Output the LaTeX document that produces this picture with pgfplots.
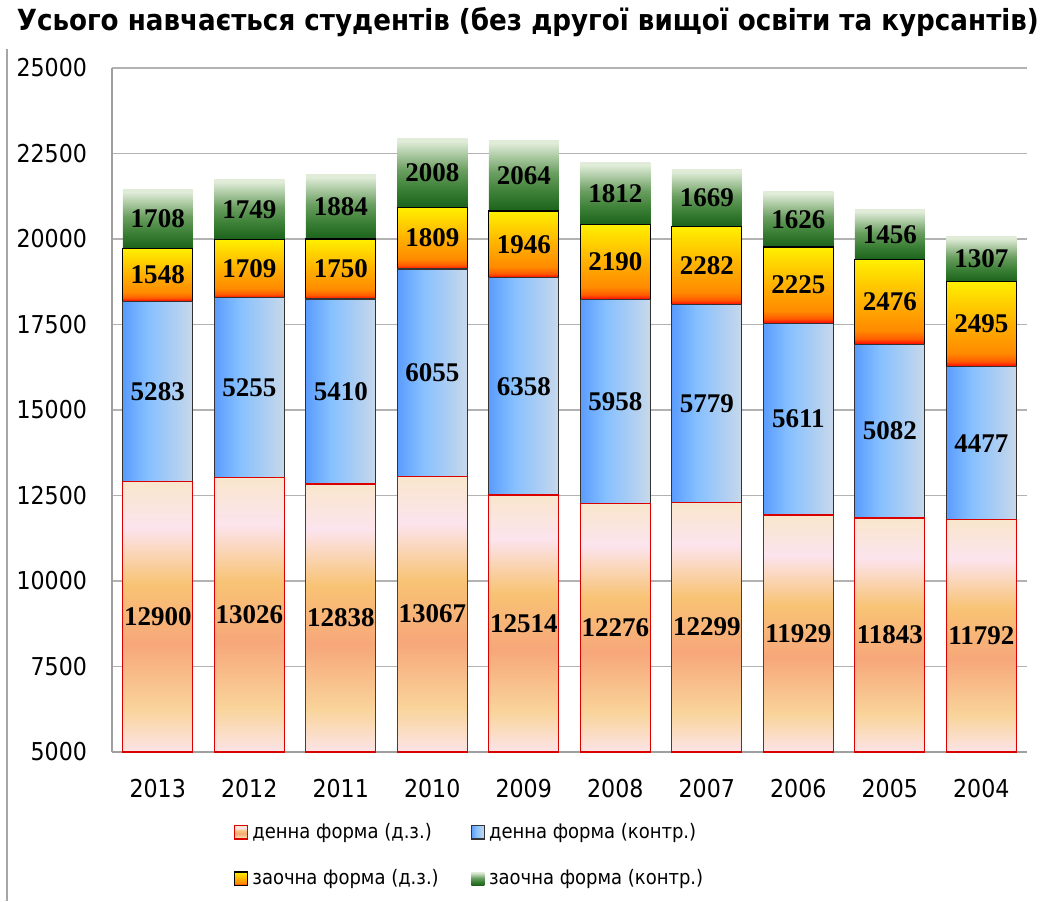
\documentclass[border=0pt]{standalone}
\usepackage{pgfplots}
\pgfplotsset{compat=1.18}
\usepackage{pgfplotstable}
\usepackage{fontspec}
\setmainfont{DejaVu Sans Condensed}
\newfontfamily\valfont{Liberation Serif}

\definecolor{p0}{HTML}{FCE4E8}
\definecolor{p1}{HTML}{F9D49A}
\definecolor{p2}{HTML}{F7A77A}
\definecolor{p3}{HTML}{F8C374}
\definecolor{p4}{HTML}{FCE4EE}
\definecolor{p5}{HTML}{F9E6CC}
\definecolor{b0}{HTML}{5A9CFE}
\definecolor{b1}{HTML}{86C0FF}
\definecolor{b2}{HTML}{C8D8EA}
\definecolor{y0}{HTML}{FF0000}
\definecolor{y1}{HTML}{FF5A00}
\definecolor{y2}{HTML}{FF8A00}
\definecolor{y3}{HTML}{FFB000}
\definecolor{y4}{HTML}{FFF000}
\definecolor{g0}{HTML}{1B621B}
\definecolor{g1}{HTML}{3A7F35}
\definecolor{g2}{HTML}{6A9E60}
\definecolor{g3}{HTML}{E0ECD8}

\pgfdeclareverticalshading{peach}{100bp}{color(0bp)=(p0); color(25bp)=(p0); color(33bp)=(p1); color(45bp)=(p2); color(56bp)=(p3); color(66.5bp)=(p4); color(75bp)=(p5); color(100bp)=(p5)}
\pgfdeclarehorizontalshading{bluesh}{100bp}{color(0bp)=(b0); color(25bp)=(b0); color(43bp)=(b1); color(75bp)=(b2); color(100bp)=(b2)}
\pgfdeclareverticalshading{yellowsh}{100bp}{color(0bp)=(y0); color(25bp)=(y0); color(28bp)=(y1); color(33bp)=(y2); color(50bp)=(y3); color(75bp)=(y4); color(100bp)=(y4)}
\pgfdeclareverticalshading{greensh}{100bp}{color(0bp)=(g0); color(25bp)=(g0); color(38bp)=(g1); color(52bp)=(g2); color(73bp)=(g3); color(100bp)=(g3)}

\pgfdeclareplotmark{nothing}{}

\pgfplotstableread{
x year dz dk zz zk
0 2013 12900 5283 1548 1708
1 2012 13026 5255 1709 1749
2 2011 12838 5410 1750 1884
3 2010 13067 6055 1809 2008
4 2009 12514 6358 1946 2064
5 2008 12276 5958 2190 1812
6 2007 12299 5779 2282 1669
7 2006 11929 5611 2225 1626
8 2005 11843 5082 2476 1456
9 2004 11792 4477 2495 1307
}\data

% 342pt of axis height = 20000 units  ->  0.0171pt per unit
\pgfplotsset{
  segbar/.style 2 args={% #1 = tikz style of the bar, #2 = offset of the base
    scatter, only marks, mark=nothing,
    scatter/@pre marker code/.code={%
      \path[#1] (-17.5pt,{-0.0171*(\pgfplotspointmeta-#2)*1pt}) rectangle (17.5pt,0pt);},
    every node near coord/.append style={anchor=center, yshift={-0.00855*(\pgfplotspointmeta-#2)*1pt}},
    legend image code/.code={\path[#1] (0cm,-0.115cm) rectangle (0.23cm,0.115cm);},
  },
}

\begin{document}
\begin{tikzpicture}
\begin{axis}[
  name=ax,
  scale only axis, width=457.5pt, height=342pt,
  stack plots=y,
  xmin=-0.5, xmax=9.5, ymin=0, ymax=20000,
  clip=false,
  scaled y ticks=false,
  xtick={0,...,9},
  xticklabels={2013,2012,2011,2010,2009,2008,2007,2006,2005,2004},
  ytick={0,2500,...,20000},
  yticklabels={5000,7500,10000,12500,15000,17500,20000,22500,25000},
  axis x line*=bottom, axis y line*=left,
  axis line style={draw=gray!75, -, line width=0.8pt},
  major tick length=0pt,
  ymajorgrids, grid style={gray!60, line width=0.8pt},
  yticklabel style={font=\fontsize{12.3}{14}\selectfont, xshift=-9pt},
  xticklabel style={font=\fontsize{12.3}{14}\selectfont, yshift=-10pt},
  title={Усього навчається студентів (без другої вищої освіти та курсантів)},
  every axis title/.style={font=\bfseries\fontsize{14.55}{17}\selectfont, at={(0.4546,1)}, anchor=base, yshift=19pt},
  point meta=explicit symbolic,
  nodes near coords={\pgfplotspointmeta},
  nodes near coords style={font=\valfont\bfseries\fontsize{13.5}{15}\selectfont, text=black},
  legend style={at={(0.392,-0.092)}, anchor=north, draw=none, legend columns=2,
    font=\fontsize{10}{12}\selectfont, row sep=10pt,
    /tikz/every even column/.append style={column sep=14pt}},
  legend cell align=left,
]
\addplot[segbar={shade, shading=peach, draw=red!85!black, line width=0.6pt}{5000}]
  table[x=x, y expr=\thisrow{dz}-5000, meta=dz] {\data};
\addplot[segbar={shade, shading=bluesh, draw=black!80, line width=0.6pt}{0}]
  table[x=x, y=dk, meta=dk] {\data};
\addplot[segbar={shade, shading=yellowsh, draw=black, line width=0.6pt}{0}]
  table[x=x, y=zz, meta=zz] {\data};
\addplot[segbar={shade, shading=greensh, draw=none}{0}]
  table[x=x, y=zk, meta=zk] {\data};
\legend{денна форма (д.з.), денна форма (контр.), заочна форма (д.з.), заочна форма (контр.)}
\draw[gray!70, line width=0.8pt] (rel axis cs:-0.1148,1.028) -- (rel axis cs:-0.1148,-0.218);
\end{axis}
\pgfresetboundingbox
\path[use as bounding box] ([xshift=-56pt,yshift=-74.5pt]ax.south west) rectangle ++(526pt,450.5pt);
\end{tikzpicture}
\end{document}
